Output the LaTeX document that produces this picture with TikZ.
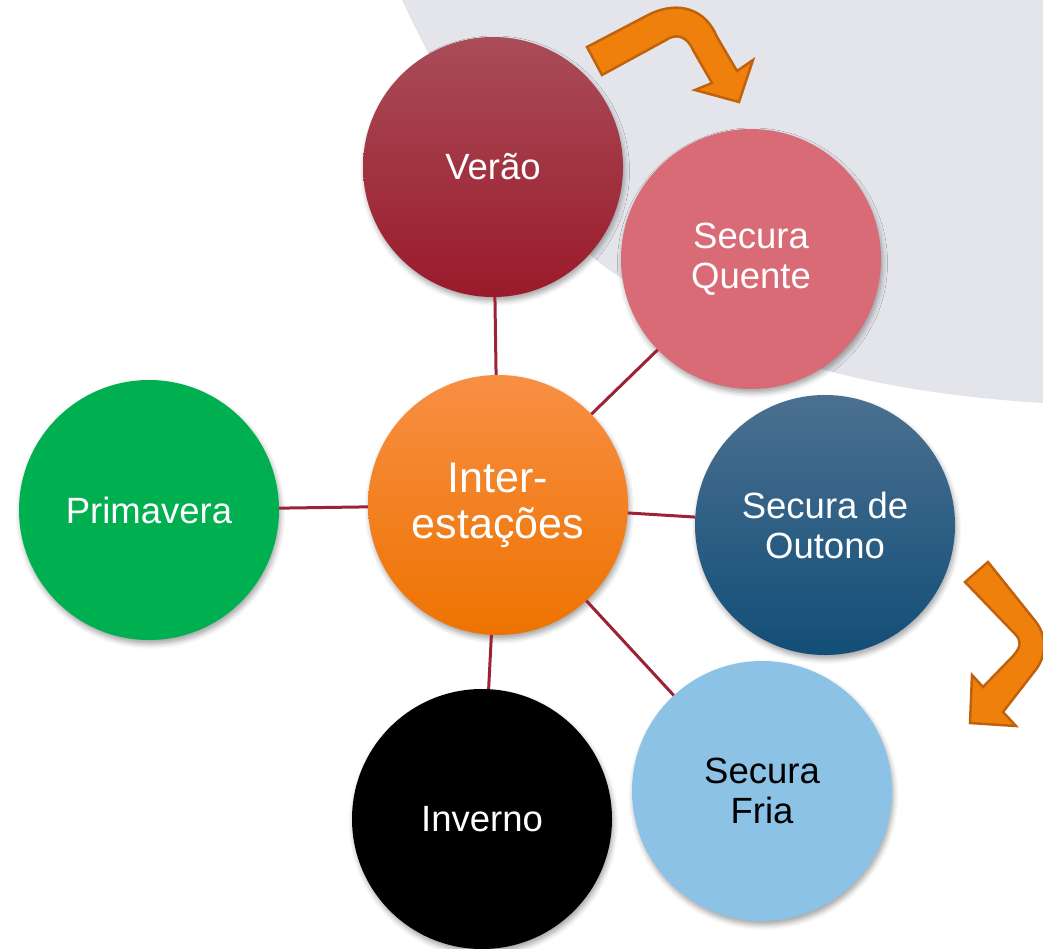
\documentclass[tikz,border=0pt]{standalone}
\usepackage{fontspec}
\setmainfont{Liberation Sans}
\usetikzlibrary{shadows.blur}
\definecolor{bggrey}{HTML}{E4E5EB}
\definecolor{linkred}{HTML}{9B2335}
\definecolor{veraoT}{HTML}{A94D58}
\definecolor{veraoB}{HTML}{9A1A2A}
\definecolor{quente}{HTML}{D96B76}
\definecolor{centT}{HTML}{F88F44}
\definecolor{centB}{HTML}{EE7300}
\definecolor{prima}{HTML}{00B050}
\definecolor{outT}{HTML}{4B7090}
\definecolor{outB}{HTML}{124E78}
\definecolor{fria}{HTML}{8CC2E5}
\definecolor{arrfill}{HTML}{F0800C}
\definecolor{arrdraw}{HTML}{C0620C}
\tikzset{
  seasonbubble/.style={circle, minimum size=260pt, inner sep=0pt, align=center,
    text=white, font=\fontsize{36.5}{40}\selectfont,
    blur shadow={shadow xshift=1.5pt, shadow yshift=-4pt, shadow blur radius=5pt, shadow opacity=35}},
  link/.style={draw=linkred, line width=3pt},
  bendarrow/.style={fill=arrfill, draw=arrdraw, line width=2.5pt, line join=miter}
}
\begin{document}
\begin{tikzpicture}[x=1pt,y=-1pt]
\useasboundingbox (0,0) rectangle (1043,948);
% grey background
\fill[bggrey] (402,0) .. controls (517,250) and (693,382) .. (1043,403) -- (1043,0) -- cycle;
% bubbles
\node[seasonbubble, top color=veraoT, bottom color=veraoB] (verao) at (493,167) {Verão};
\node[seasonbubble, fill=quente] (quente) at (751,259) {Secura\\Quente};
\node[seasonbubble, fill=prima] (prima) at (149,510) {Primavera};
\node[seasonbubble, top color=outT, bottom color=outB] (outono) at (825,525) {Secura de\\Outono};
\node[seasonbubble, fill=fria, text=black] (fria) at (762,791) {Secura\\Fria};
\node[seasonbubble, fill=black] (inverno) at (482,819) {Inverno};
\node[seasonbubble, top color=centT, bottom color=centB, font=\fontsize{43}{46}\selectfont] (centro) at (498,505) {Inter-\\estações};
% links
\draw[link] (centro) -- (verao);
\draw[link] (centro) -- (quente);
\draw[link] (centro) -- (prima);
\draw[link] (centro) -- (outono);
\draw[link] (centro) -- (fria);
\draw[link] (centro) -- (inverno);
% bent arrows
\draw[bendarrow] (587,47) -- (650,14) .. controls (680,0) and (706,10) .. (717,37)
  -- (737,71) -- (753,60) -- (739,102) -- (695,90) -- (712,83) -- (693,50)
  .. controls (687,36) and (676,33) .. (666,40) -- (602,75) -- cycle;
\draw[bendarrow] (965,582) -- (988,562) -- (1036,622) .. controls (1048,638) and (1046,658) .. (1034,672)
  -- (1003,712) -- (1016,726) -- (970,723) -- (972,675) -- (983,687) -- (1013,656)
  .. controls (1022,646) and (1021,640) .. (1015,634) -- cycle;
\end{tikzpicture}
\end{document}
